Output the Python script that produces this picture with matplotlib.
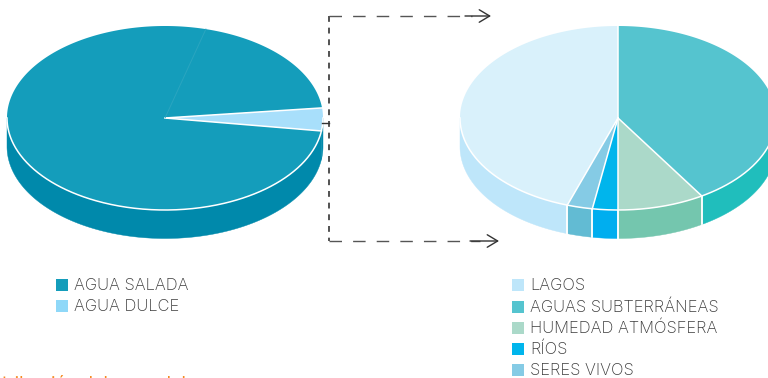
import numpy as np
import matplotlib
matplotlib.use("Agg")
import matplotlib.pyplot as plt

left_labels = ["AGUA SALADA", "AGUA DULCE"]
left_values = [96.0, 4.0]
left_top = ["#149DBB", "#A8DFFB"]
left_side = ["#0089AB", "#0089AB"]
left_legend = ["#149DBB", "#8FD8F8"]

right_labels = ["LAGOS", "AGUAS SUBTERRÁNEAS", "HUMEDAD ATMÓSFERA", "RÍOS", "SERES VIVOS"]
right_legend = ["#BEE6FA", "#55C4CF", "#ABD9C9", "#00B5EC", "#85CBE5"]

# clockwise from 12 o'clock
pie_values = [41.1, 8.9, 2.6, 2.6, 44.8]
pie_top = ["#55C4CF", "#ABD9C9", "#00B5EC", "#85CBE5", "#D9F1FB"]
pie_side = ["#20BEBC", "#74C6AE", "#00AEEF", "#62BBD3", "#BEE6FA"]

caption = "Distribución del agua del"

RX, RY, DEPTH = 158, 92, 28.5
W, H = 768, 378


def arc(cx, cy, a0, a1, dy=0):
    # angles in degrees, clockwise from 12 o'clock
    t = np.radians(np.arange(a0, a1, 0.5).tolist() + [a1])
    return cx + RX*np.sin(t), cy - RY*np.cos(t) + dy


def pie3d(ax, cx, cy, values, top, side, start, wall_seams=True):
    vals = np.array(values, dtype=float)
    ends = start + np.cumsum(vals)/vals.sum()*360
    starts = np.r_[start, ends[:-1]]
    # side wall first, only the part facing front (90 to 270 deg)
    for a0, a1, c in zip(starts, ends, side):
        for shift in (-360, 0, 360):
            lo, hi = max(a0+shift, 90), min(a1+shift, 270)
            if lo >= hi:
                continue
            x, y = arc(cx, cy, lo, hi)
            x2, y2 = arc(cx, cy, lo, hi, DEPTH)
            ax.fill(np.r_[x, x2[::-1]], np.r_[y, y2[::-1]], fc=c, ec=c, lw=0.3, zorder=1)
            if wall_seams and lo > 90:
                ax.plot([x[0], x2[0]], [y[0], y2[0]], color="white", lw=1.1, zorder=2)
            if wall_seams and hi < 270:
                ax.plot([x[-1], x2[-1]], [y[-1], y2[-1]], color="white", lw=1.1, zorder=2)
    for a0, a1, c in zip(starts, ends, top):
        x, y = arc(cx, cy, a0, a1)
        ax.fill(np.r_[cx, x], np.r_[cy, y], fc=c, ec="none", zorder=3)
    # white seams: inside the pie and along the front rim only
    for a0, a1 in zip(starts, ends):
        x, y = arc(cx, cy, a0, a0)
        ax.plot([cx, x[0]], [cy, y[0]], color="white", lw=1.1, zorder=4)
    x, y = arc(cx, cy, 90, 270)
    ax.plot(x, y, color="white", lw=1.1, zorder=4)


def legend(ax, x, ys, labels, colors):
    for y, lab, c in zip(ys, labels, colors):
        ax.fill([x, x+12, x+12, x], [y-6, y-6, y+6, y+6], fc=c, ec="none")
        ax.text(x+18, y+0.6, lab, fontsize=11.9, color="#3C3C3C", va="center", ha="left",
                family="Inter", fontweight="light")


fig = plt.figure(figsize=(W/100, H/100), dpi=100)
ax = fig.add_axes([0, 0, 1, 1])
ax.set_xlim(0, W)
ax.set_ylim(H, 0)
ax.axis("off")

pie3d(ax, 165, 118, left_values, left_top, left_side, 98.1, wall_seams=False)
# faint seam on the big slice
t = np.radians(15)
ax.plot([165, 165+RX*np.sin(t)], [118, 118-RY*np.cos(t)], color="#2AA5C0", lw=0.7, zorder=5)
pie3d(ax, 618, 118, pie_values, pie_top, pie_side, 0)

# connector
ax.plot([322, 329], [123, 123], color="#333333", lw=1, zorder=5)
ax.plot([328.5, 328.5], [16, 240.5], color="#333333", lw=1.2, dashes=(3.5, 3.5))
ax.plot([329, 472], [16, 16], color="#555555", lw=1, dashes=(9, 8))
ax.plot([329, 480], [240.5, 240.5], color="#555555", lw=1, dashes=(9, 8))
ax.annotate("", xy=(491, 16), xytext=(465, 16),
            arrowprops=dict(arrowstyle="->,head_length=0.75,head_width=0.45", color="#333333", lw=1, shrinkA=0, shrinkB=0))
ax.annotate("", xy=(499, 241), xytext=(470, 241),
            arrowprops=dict(arrowstyle="->,head_length=0.75,head_width=0.45", color="#333333", lw=1, shrinkA=0, shrinkB=0))

legend(ax, 56, [285, 306], left_labels, left_legend)
legend(ax, 512, [285, 306.5, 328, 349, 370], right_labels, right_legend)

# caption of the page below, cut off by the crop
ax.text(186, 389, caption, fontsize=13, color="#F58A1F", ha="right", va="baseline",
        family="Inter", clip_on=False)

fig.savefig("out.png", dpi=100)
